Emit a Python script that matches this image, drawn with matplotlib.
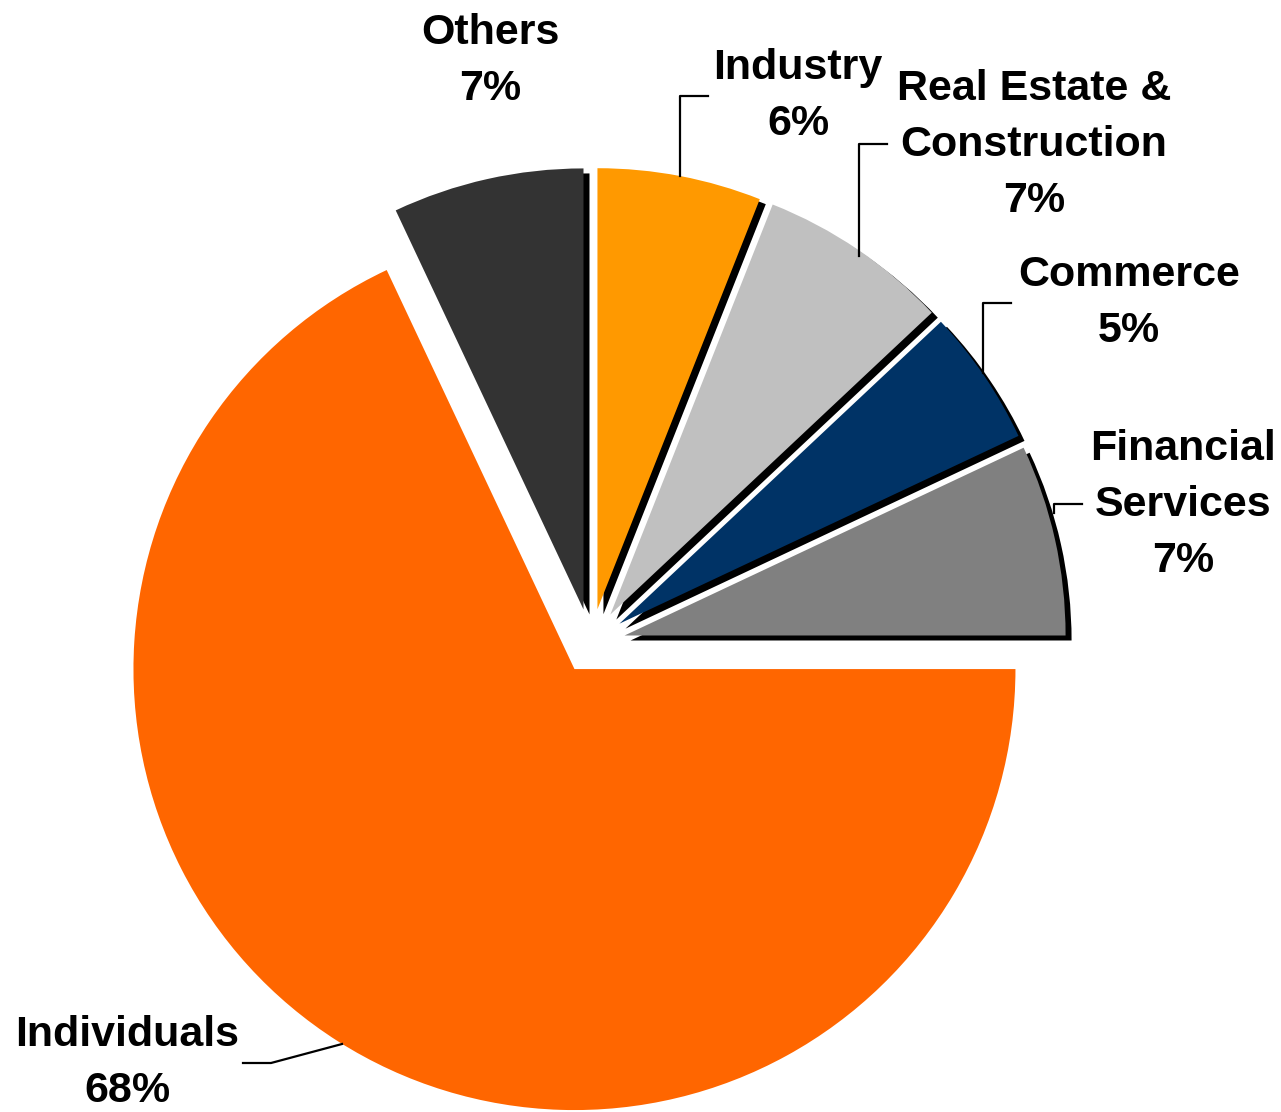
import matplotlib
matplotlib.use("Agg")
import matplotlib.pyplot as plt
from matplotlib.lines import Line2D

# Data (counter-clockwise from 3 o'clock)
categories = ["Financial\nServices", "Commerce", "Real Estate &\nConstruction",
              "Industry", "Others", "Individuals"]
shares = [7, 5, 7, 6, 7, 68]
colors = ["#808080", "#003366", "#C0C0C0", "#FF9900", "#333333", "#FF6600"]
shadowed = [True, True, True, True, True, False]

W, H = 1281, 1112
R_PX = 441.0
CX, CY = 591.0, 643.0

fig = plt.figure(figsize=(W / 100, H / 100), dpi=100)
ax = fig.add_axes([0, 0, 1, 1])
ax.axis("off")

explode = [0.078, 0.078, 0.078, 0.078, 0.078, 0.07]

# shadow pie (black, offset right/down)
sh_colors = ["black" if s else "none" for s in shadowed]
ax.pie(shares, explode=explode, colors=sh_colors, startangle=0, counterclock=True,
       radius=1.0, center=(6 / R_PX, -5 / R_PX), wedgeprops=dict(linewidth=0))
ax.pie(shares, explode=explode, colors=colors, startangle=0, counterclock=True,
       radius=1.0, center=(0, 0), wedgeprops=dict(linewidth=0))

ax.set_xlim(-CX / R_PX, (W - CX) / R_PX)
ax.set_ylim((CY - H) / R_PX, CY / R_PX)
ax.set_aspect("auto")


def fx(px):
    return px / W


def fy(py):
    return 1 - py / H


font = dict(family=["Liberation Sans", "DejaVu Sans"], fontsize=31, fontweight="bold",
            ha="center", va="center", linespacing=1.53, color="black")

# label positions in pixels (centre of text block)
label_pos = {
    "Financial\nServices": (1183, 505),
    "Commerce": (1129, 303),
    "Real Estate &\nConstruction": (1034, 145),
    "Industry": (798, 96),
    "Others": (490, 61),
    "Individuals": (127, 1063),
}
for cat, val in zip(categories, shares):
    x, y = label_pos[cat]
    fig.text(fx(x), fy(y), f"{cat}\n{val}%", **font)

# leader lines (pixel paths)
leaders = [
    [(680, 176), (680, 96), (708, 96)],
    [(859, 256), (859, 144), (887, 144)],
    [(983, 373), (983, 303), (1011, 303)],
    [(1054, 513), (1054, 504), (1082, 504)],
    [(342, 1044), (271, 1063), (243, 1063)],
]
for path in leaders:
    xs = [fx(p[0]) for p in path]
    ys = [fy(p[1]) for p in path]
    fig.add_artist(Line2D(xs, ys, color="black", linewidth=1.6, transform=fig.transFigure))

fig.savefig("out.png", dpi=100)
